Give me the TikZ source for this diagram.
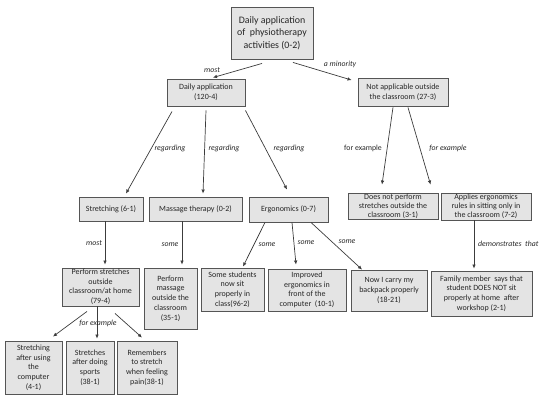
\documentclass[tikz,border=0pt]{standalone}
\usepackage{fontspec}
\setmainfont{Carlito}
\usetikzlibrary{arrows.meta,calc}
\definecolor{boxfill}{HTML}{E4E4E4}
\definecolor{boxline}{HTML}{555555}
\definecolor{txt}{HTML}{262626}
\definecolor{arr}{HTML}{3C3C3C}
\begin{document}
\begin{tikzpicture}[x=1pt,y=-1pt,
  box/.style={draw=boxline,line width=0.9pt,fill=boxfill,text=txt,align=center,
    inner sep=0pt,font=\fontsize{8}{9.7}\selectfont},
  conn/.style={draw=arr,line width=0.7pt,-{Latex[length=4pt,width=3.6pt]}},
  lab/.style={text=txt,font=\fontsize{7.8}{9}\selectfont\itshape,inner sep=0pt},
  labu/.style={text=txt,font=\fontsize{7.8}{9}\selectfont,inner sep=0pt}]
\useasboundingbox (0,0) rectangle (550,404);

\node[box,minimum width=82pt,minimum height=52pt,font=\fontsize{9.9}{12.6}\selectfont] (root) at (272,33)
  {Daily application\\ of\ \ physiotherapy\\ activities (0-2)};
\node[box,minimum width=78pt,minimum height=27pt] (daily) at (206,92.5) {Daily application\\ (120-4)};
\node[box,minimum width=90pt,minimum height=28pt] (notapp) at (403,92) {Not applicable outside\\ the classroom (27-3)};

\node[box,minimum width=64pt,minimum height=24pt] (stretch) at (111,209) {Stretching (6-1)};
\node[box,minimum width=93pt,minimum height=24pt] (massage) at (195.5,209) {Massage therapy (0-2)};
\node[box,minimum width=79pt,minimum height=25pt] (ergo) at (288.5,209.5) {Ergonomics (0-7)};
\node[box,minimum width=90pt,minimum height=26pt,font=\fontsize{8}{9}\selectfont] (doesnot) at (393,206) {Does not perform\\ stretches outside the\\ classroom (3-1)};
\node[box,minimum width=90pt,minimum height=27pt,font=\fontsize{8}{9}\selectfont] (applies) at (486,206.5) {Applies ergonomics\\ rules in sitting only in\\ the classroom (7-2)};

\node[box,minimum width=77pt,minimum height=38pt,font=\fontsize{8}{9.5}\selectfont] (perfstr) at (100.5,287) {Perform stretches\\ outside\\ classroom/at home\\ (79-4)};
\node[box,minimum width=53pt,minimum height=61pt] (perfmas) at (170.5,298.5) {Perform\\ massage\\ outside the\\ classroom\\ (35-1)};
\node[box,minimum width=63pt,minimum height=43pt] (somestu) at (232.5,289.5) {Some students\\ now sit\\ properly in\\ class(96-2)};
\node[box,minimum width=78pt,minimum height=42pt] (improved) at (307,290) {Improved\\ ergonomics in\\ front of the\\ computer\ \ (10-1)};
\node[box,minimum width=76pt,minimum height=41pt] (carry) at (389,290.5) {Now I carry my\\ backpack properly\\ (18-21)};
\node[box,minimum width=101pt,minimum height=45pt] (family) at (481.5,293.5) {Family member\ \ says that\\ student DOES NOT sit\\ properly at home\ \ after\\ workshop (2-1)};

\node[box,minimum width=57pt,minimum height=53pt] (b1) at (33.5,367.5) {Stretching\\ after using\\ the\\ computer\\ (4-1)};
\node[box,minimum width=48pt,minimum height=53pt] (b2) at (90,367.5) {Stretches\\ after doing\\ sports\\ (38-1)};
\node[box,minimum width=60pt,minimum height=53pt] (b3) at (147,367.5) {Remembers\\ to stretch\\ when feeling\\ pain(38-1)};

% connectors
\draw[conn] ($(root.south)+(-10,4)$) -- ($(daily.north)+(7,-1)$);
\draw[conn] ($(root.south)+(21,3)$) -- ($(notapp.north west)+(-6,2.5)$);
\draw[conn] ($(daily.south)+(-34,5)$) -- ($(stretch.north)+(15,-3)$);
\draw[conn] ($(daily.south)+(0,4)$) -- ($(massage.north)+(7.5,-3)$);
\draw[conn] ($(daily.south east)+(0,4)$) -- ($(ergo.north)+(-1.5,-7)$);
\draw[conn] ($(notapp.south)+(-10,1)$) -- ($(doesnot.north)+(-11,-8)$);
\draw[conn] ($(notapp.south)+(5,1)$) -- ($(applies.north west)+(-10,-8)$);
\draw[conn] ($(stretch.south)+(-6,0)$) -- ($(perfstr.north)+(4.5,-3)$);
\draw[conn] ($(massage.south)+(-13.5,0)$) -- ($(perfmas.north)+(11.5,-3)$);
\draw[conn] ($(ergo.south)+(-23.5,0)$) -- ($(somestu.north)+(10.5,-1)$);
\draw[conn] ($(ergo.south)+(3.5,0)$) -- ($(improved.north)+(-11,-4)$);
\draw[conn] ($(ergo.south)+(22.5,0)$) -- ($(carry.north)+(-27,0)$);
\draw[conn] ($(applies.south)+(-12,0)$) -- ($(family.north)+(-7.5,-2)$);
\draw[conn] ($(perfstr.south)+(-13.5,5)$) -- ($(b1.north)+(19.5,-4)$);
\draw[conn] ($(perfstr.south)+(-3.5,0)$) -- ($(b2.north)+(7,-2)$);
\draw[conn] ($(perfstr.south)+(14.5,7)$) -- ($(b3.north)+(-5,-3)$);

% labels
\node[lab] (l1) at (212,70) {most};
\node[lab] (l2) at (340,64) {a minority};
\node[lab] (l3) at (170,148) {regarding};
\node[lab] (l4) at (224,148) {regarding};
\node[lab] (l5) at (289,148) {regarding};
\node[labu] (l6) at (363,148) {for example};
\node[lab] (l7) at (448,148) {for example};
\node[lab] (l8) at (94,243) {most};
\node[lab] (l9) at (170,245) {some};
\node[lab] (l10) at (267,245) {some};
\node[lab] (l11) at (306,243) {some};
\node[lab] (l12) at (347,242) {some};
\node[lab,anchor=west] (l13) at (478,244) {demonstrates\ \ that};
\node[lab] (l14) at (98,323) {for example};
\end{tikzpicture}
\end{document}
